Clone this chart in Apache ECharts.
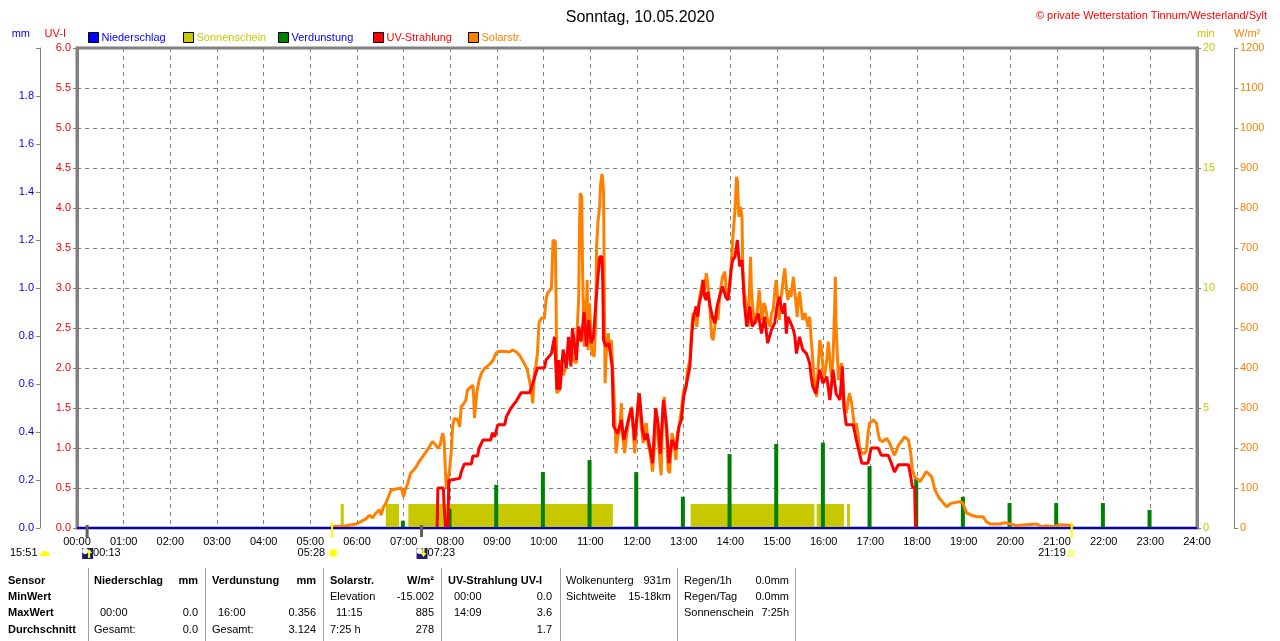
<!DOCTYPE html>
<html>
<head>
<meta charset="utf-8">
<title>Sonntag, 10.05.2020</title>
<script src="https://cdn.jsdelivr.net/npm/echarts@6.0.0/dist/echarts.min.js"></script>
<style>
    html, body { margin: 0; padding: 0; background: #ffffff; }
    #wetter-graph { width: 1280px; height: 641px; }
</style>
</head>
<body>
<div id="wetter-graph"></div>
<script>
/* Solarstrahlung W/m2 (Minuten ab 00:00). */
var solarMinutes = [326, 344, 359, 365, 371, 376, 380, 384, 389, 391, 394, 397, 404, 417, 420, 422, 425, 429, 435, 440,
    449, 453, 457, 461, 464, 467, 470, 472, 474, 475, 477, 479, 481, 483, 485, 489, 492, 494, 497, 500,
    502, 506, 509, 510, 511, 513, 514, 517, 520, 524, 528, 532, 535, 539, 543, 552, 556, 560, 565, 569,
    575, 579, 582, 584, 586, 588, 590, 592, 594, 597, 601, 603, 605, 610, 611, 612, 615, 616, 617, 619,
    620, 622, 625, 629, 632, 635, 638, 642, 643, 645, 646, 647, 649, 650, 652, 653, 654, 656, 657, 659,
    661, 662, 665, 667, 668, 670, 672, 673, 675, 676, 677, 678, 679, 680, 681, 683, 685, 687, 689, 691,
    693, 695, 698, 700, 701, 704, 706, 708, 710, 713, 715, 717, 719, 722, 723, 725, 728, 730, 732, 734,
    737, 740, 743, 744, 746, 748, 751, 753, 755, 758, 760, 762, 765, 767, 770, 772, 774, 777, 780, 783,
    785, 788, 790, 792, 795, 797, 799, 800, 803, 805, 807, 809, 811, 813, 816, 818, 820, 822, 824, 826,
    828, 830, 833, 835, 837, 839, 841, 843, 846, 848, 849, 851, 853, 855, 856, 858, 861, 863, 866, 867,
    869, 871, 873, 876, 877, 879, 881, 883, 885, 888, 891, 893, 895, 897, 899, 901, 903, 904, 906, 908,
    910, 912, 914, 916, 918, 921, 924, 926, 927, 929, 931, 933, 936, 938, 940, 942, 944, 946, 948, 951,
    953, 955, 957, 959, 961, 964, 966, 968, 970, 972, 974, 975, 976, 979, 981, 983, 985, 987, 989, 993,
    996, 998, 1000, 1002, 1004, 1006, 1009, 1013, 1015, 1017, 1019, 1024, 1028, 1030, 1032, 1036, 1041, 1045, 1048, 1051,
    1054, 1056, 1060, 1064, 1069, 1072, 1074, 1077, 1084, 1088, 1092, 1099, 1103, 1109, 1118, 1124, 1135, 1139, 1144, 1150,
    1157, 1165, 1169, 1174, 1187, 1193, 1202, 1208, 1234, 1240, 1247, 1255, 1264, 1281];
var solarValues = [3, 5, 10, 16, 22, 32, 25, 37, 45, 32, 52, 62, 95, 100, 78, 95, 110, 137, 150, 166,
    191, 203, 216, 208, 199, 208, 237, 220, 128, 100, 103, 145, 187, 253, 274, 272, 253, 303, 310, 320,
    345, 352, 357, 332, 275, 277, 337, 370, 387, 399, 405, 412, 420, 438, 442, 441, 440, 445, 440, 432,
    412, 395, 366, 345, 312, 387, 407, 437, 512, 525, 524, 570, 587, 599, 657, 720, 716, 570, 337, 332,
    345, 420, 382, 403, 445, 470, 420, 412, 495, 570, 745, 837, 828, 645, 453, 570, 495, 620, 445, 562,
    470, 437, 428, 520, 703, 770, 803, 857, 885, 870, 837, 570, 362, 420, 453, 487, 445, 470, 387, 303,
    187, 220, 253, 312, 245, 187, 220, 253, 282, 303, 245, 187, 245, 328, 337, 262, 212, 253, 262, 212,
    187, 141, 220, 299, 270, 203, 132, 287, 328, 237, 145, 137, 237, 220, 170, 237, 253, 295, 345, 353,
    395, 420, 487, 537, 520, 503, 553, 570, 603, 620, 595, 637, 612, 570, 478, 470, 503, 528, 520, 570,
    603, 628, 641, 587, 570, 603, 653, 720, 795, 878, 870, 778, 803, 778, 645, 587, 553, 503, 678, 603,
    545, 520, 512, 570, 595, 553, 520, 562, 553, 520, 503, 537, 545, 587, 620, 570, 520, 562, 587, 620,
    649, 603, 570, 595, 578, 628, 570, 528, 562, 591, 553, 520, 537, 537, 503, 528, 470, 420, 370, 328,
    403, 470, 453, 403, 378, 420, 466, 420, 378, 420, 545, 628, 503, 370, 370, 412, 353, 303, 287, 337,
    312, 278, 253, 262, 237, 203, 187, 187, 195, 237, 262, 270, 262, 237, 220, 216, 224, 212, 195, 182,
    195, 207, 216, 228, 220, 187, 145, 128, 116, 128, 141, 128, 95, 74, 53, 62, 66, 62, 37, 32,
    28, 28, 16, 10, 10, 13, 9, 6, 10, 3, 6, 3, 8, 6];

/* UV-Index. */
var uvMinutes = [463, 464, 471, 472, 474, 477, 478, 481, 492, 494, 498, 507, 509, 515, 517, 522, 532, 534, 537, 541,
    550, 552, 558, 565, 571, 582, 586, 592, 601, 603, 610, 612, 614, 617, 619, 621, 625, 629, 632, 635,
    637, 642, 645, 648, 652, 655, 658, 661, 664, 668, 672, 675, 676, 677, 680, 684, 688, 690, 695, 700,
    703, 708, 713, 717, 722, 723, 727, 730, 733, 737, 740, 744, 747, 750, 754, 758, 761, 765, 770, 774,
    777, 780, 783, 788, 790, 792, 796, 798, 800, 803, 805, 807, 809, 811, 814, 817, 820, 823, 826, 830,
    834, 837, 839, 841, 843, 846, 849, 850, 852, 855, 858, 861, 865, 868, 871, 876, 880, 884, 888, 893,
    897, 900, 903, 906, 908, 910, 912, 914, 916, 921, 923, 925, 929, 933, 938, 942, 944, 946, 950, 953,
    955, 959, 964, 968, 972, 976, 981, 984, 986, 989, 998, 1002, 1009, 1017, 1021, 1030, 1034, 1043, 1047, 1051,
    1056, 1069, 1072, 1074, 1077, 1078, 1080];
var uvValues = [0, 0.5, 0.5, 0.27, 0, 0, 0.6, 0.6, 0.62, 0.7, 0.8, 0.8, 0.9, 0.9, 1.0, 1.1, 1.1, 1.19, 1.14, 1.29,
    1.29, 1.39, 1.5, 1.59, 1.69, 1.69, 1.81, 2.0, 2.0, 2.1, 2.18, 2.29, 2.39, 1.73, 2.1, 1.73, 2.23, 2.0, 2.39, 2.02,
    2.5, 2.1, 2.52, 2.33, 2.7, 2.27, 2.6, 2.31, 2.39, 2.93, 3.39, 3.39, 3.06, 2.35, 2.27, 2.31, 2.02, 1.27, 1.18, 1.35,
    1.1, 1.31, 1.5, 1.1, 1.6, 1.68, 1.23, 1.1, 1.18, 0.98, 0.81, 1.5, 1.31, 0.93, 1.6, 1.27, 0.81, 1.1, 0.98, 1.27,
    1.35, 1.64, 1.77, 2.02, 2.35, 2.6, 2.77, 2.64, 2.81, 2.93, 3.1, 2.89, 2.85, 2.95, 2.77, 2.64, 2.56, 2.77, 2.89, 3.02,
    2.89, 2.85, 3.02, 3.23, 3.35, 3.39, 3.6, 3.48, 3.27, 3.35, 2.81, 2.52, 2.77, 2.52, 2.56, 2.68, 2.43, 2.64, 2.31, 2.48,
    2.56, 2.77, 2.89, 2.73, 2.68, 2.81, 2.43, 2.64, 2.6, 2.48, 2.39, 2.18, 2.39, 2.23, 2.18, 2.06, 1.89, 1.77, 1.68, 1.85,
    1.98, 1.81, 1.89, 1.6, 1.98, 1.68, 1.6, 2.02, 1.52, 1.29, 1.29, 1.1, 0.81, 0.81, 1.0, 1.0, 0.91, 0.91, 0.81, 0.7,
    0.79, 0.79, 0.64, 0.52, 0.5, 0.02, 0];

/* Verdunstung mm je Stunde. */
var evapMinutes = [419, 479, 539, 599, 659, 719, 779, 839, 899, 959, 1019, 1079, 1139, 1199, 1259, 1319, 1379];
var evapValues = [0.03, 0.08, 0.18, 0.233, 0.283, 0.233, 0.13, 0.308, 0.35, 0.356, 0.258, 0.208, 0.13, 0.104, 0.104, 0.104, 0.075];

/* Sonnenschein min (Intervalle). */
var sunStart = [339, 397, 426, 789, 951, 990];
var sunEnd = [343, 414, 689, 948, 986, 994];
var sunValue = [1, 1, 1, 1, 1, 1];

/* Niederschlag mm. */
var rainMinutes = [0, 1440];
var rainValues = [0, 0];

/* Sonne / Mond. */
var sunRiseSet = ['05:28', '21:19'];
var moonRiseSet = ['00:13', '07:23'];
var dayLength = '15:51';

var FONT = 'Liberation Sans';
var GRAY = '#808080';
var C_RAIN = '#0000ff';
var C_SUN = '#c8c800';
var C_EVAP = '#008000';
var C_UV = '#ff0000';
var C_SOLAR = '#ff8000';

function pairs(xs, ys) {
    var out = [];
    for (var i = 0; i < xs.length; i++) {
        out.push([xs[i], ys[i]]);
    }
    return out;
}

function toMinutes(s) {
    var p = s.split(':');
    return parseInt(p[0], 10) * 60 + parseInt(p[1], 10);
}

var chart = echarts.init(document.getElementById('wetter-graph'));

/* Legend: one slot per series. */
var legendItems = [
    {name: 'Niederschlag', color: C_RAIN, text: C_RAIN},
    {name: 'Sonnenschein', color: C_SUN, text: C_SUN},
    {name: 'Verdunstung', color: C_EVAP, text: C_RAIN},
    {name: 'UV-Strahlung', color: C_UV, text: C_UV},
    {name: 'Solarstr.', color: C_SOLAR, text: C_SOLAR}
];
var legends = legendItems.map(function (it, i) {
    return {
        left: 88 + 95 * i,
        top: 32,
        itemWidth: 10,
        itemHeight: 10,
        icon: 'rect',
        selectedMode: false,
        padding: 0,
        textStyle: {fontFamily: FONT, fontSize: 11, color: it.text, padding: [0, 0, 0, -2]},
        data: [{name: it.name, itemStyle: {color: it.color, borderColor: '#000000', borderWidth: 1}}]
    };
});

var option = {
    animation: false,
    backgroundColor: '#ffffff',
    textStyle: {fontFamily: FONT},
    title: [
        {
            text: 'Sonntag, 10.05.2020',
            left: 'center',
            top: 5,
            textStyle: {fontFamily: FONT, fontSize: 16, fontWeight: 'normal', color: '#000000'}
        },
        {
            text: '© private Wetterstation Tinnum/Westerland/Sylt',
            right: 8,
            top: 5,
            textStyle: {fontFamily: FONT, fontSize: 11, fontWeight: 'normal', color: '#ff0000'}
        }
    ],
    legend: legends,
    grid: {
        left: 77,
        right: 83,
        top: 48,
        bottom: 113,
        show: true,
        borderColor: GRAY,
        borderWidth: 3,
        backgroundColor: 'transparent'
    },
    xAxis: {
        type: 'value',
        min: 0,
        max: 1440,
        interval: 60,
        axisLine: {show: false},
        axisTick: {show: false},
        axisLabel: {
            color: '#000000',
            fontSize: 11,
            margin: 8,
            showMaxLabel: true,
            formatter: function (v) {
                var h = Math.round(v / 60);
                return (h < 10 ? '0' : '') + h + ':00';
            }
        },
        splitLine: {show: true, lineStyle: {color: GRAY, type: [4, 4], width: 1}}
    },
    yAxis: [
        {
            type: 'value', min: 0, max: 6, interval: 0.5, position: 'left',
            name: 'UV-I', nameLocation: 'end', nameGap: 9,
            nameTextStyle: {color: C_UV, fontSize: 11, align: 'right', padding: [0, 11, 0, 0]},
            axisLine: {show: true, lineStyle: {color: GRAY, width: 3}},
            axisTick: {show: true, length: 4, lineStyle: {color: GRAY}},
            axisLabel: {color: C_UV, fontSize: 11, margin: 6, formatter: function (v) { return v.toFixed(1); }},
            splitLine: {show: true, lineStyle: {color: GRAY, type: [4, 4], width: 1}}
        },
        {
            type: 'value', min: 0, max: 2, interval: 0.2, position: 'left', offset: 37,
            name: 'mm', nameLocation: 'end', nameGap: 9,
            nameTextStyle: {color: C_RAIN, fontSize: 11, align: 'right', padding: [0, 10, 0, 0]},
            axisLine: {show: true, lineStyle: {color: GRAY, width: 1}},
            axisTick: {show: true, length: 4, lineStyle: {color: GRAY}},
            axisLabel: {color: C_RAIN, fontSize: 11, margin: 6, formatter: function (v) { return v > 1.95 ? '' : v.toFixed(1); }},
            splitLine: {show: false}
        },
        {
            type: 'value', min: 0, max: 20, interval: 5, position: 'right',
            name: 'min', nameLocation: 'end', nameGap: 9,
            nameTextStyle: {color: C_SUN, fontSize: 11, align: 'left', padding: [0, 0, 0, 0]},
            axisLine: {show: true, lineStyle: {color: GRAY, width: 3}},
            axisTick: {show: true, length: 4, lineStyle: {color: GRAY}},
            axisLabel: {color: C_SUN, fontSize: 11, margin: 6, formatter: function (v) { return String(v); }},
            splitLine: {show: false}
        },
        {
            type: 'value', min: 0, max: 1200, interval: 100, position: 'right', offset: 37,
            name: 'W/m²', nameLocation: 'end', nameGap: 9,
            nameTextStyle: {color: C_SOLAR, fontSize: 11, align: 'left', padding: [0, 0, 0, 0]},
            axisLine: {show: true, lineStyle: {color: GRAY, width: 1}},
            axisTick: {show: true, length: 4, lineStyle: {color: GRAY}},
            axisLabel: {color: C_SOLAR, fontSize: 11, margin: 6, formatter: function (v) { return String(v); }},
            splitLine: {show: false}
        }
    ],
    series: [
        {
            name: 'Sonnenschein',
            type: 'custom',
            xAxisIndex: 0,
            yAxisIndex: 2,
            itemStyle: {color: C_SUN},
            encode: {x: [0, 1], y: 2},
            renderItem: function (params, api) {
                var p0 = api.coord([api.value(0), api.value(2)]);
                var p1 = api.coord([api.value(1), 0]);
                return {
                    type: 'rect',
                    shape: {x: p0[0], y: p0[1], width: p1[0] - p0[0], height: p1[1] - p0[1]},
                    style: {fill: C_SUN}
                };
            },
            data: sunStart.map(function (s, i) { return [s, sunEnd[i], sunValue[i]]; })
        },
        {
            name: 'Solarstr.',
            type: 'line',
            yAxisIndex: 3,
            symbol: 'none',
            itemStyle: {color: C_SOLAR},
            lineStyle: {color: C_SOLAR, width: 3},
            data: pairs(solarMinutes, solarValues)
        },
        {
            name: 'UV-Strahlung',
            type: 'line',
            yAxisIndex: 0,
            symbol: 'none',
            itemStyle: {color: C_UV},
            lineStyle: {color: C_UV, width: 3},
            data: pairs(uvMinutes, uvValues)
        },
        {
            name: 'Verdunstung',
            type: 'bar',
            yAxisIndex: 1,
            barWidth: 4,
            itemStyle: {color: C_EVAP},
            data: pairs(evapMinutes, evapValues)
        },
        {
            name: 'Niederschlag',
            type: 'line',
            yAxisIndex: 1,
            symbol: 'none',
            z: 5,
            itemStyle: {color: C_RAIN},
            lineStyle: {color: '#0000cc', width: 2},
            data: pairs(rainMinutes, rainValues)
        }
    ]
};
chart.setOption(option);

/* Sonne/Mond-Markierungen unter der Zeitachse, ueber die Achse positioniert. */
var baseY = chart.convertToPixel({yAxisIndex: 0}, 0);
var rowY = baseY + 25;
var elements = [];
var txt = {fontFamily: FONT, fontSize: 11, fill: '#000000', verticalAlign: 'middle'};

function text(x, y, s, align, extra) {
    var st = Object.assign({}, txt, {x: x, y: y, text: s, align: align || 'left'}, extra || {});
    return {type: 'text', style: st, z: 100};
}

sunRiseSet.forEach(function (t, i) {
    var x = chart.convertToPixel({xAxisIndex: 0}, toMinutes(t));
    elements.push({type: 'line', shape: {x1: x, y1: baseY - 6, x2: x, y2: baseY + 10}, style: {stroke: '#ffff00', lineWidth: 2}, z: 100});
    if (i === 0) {
        elements.push(text(x - 7, rowY, t, 'right'));
        elements.push({type: 'circle', shape: {cx: x + 1, cy: rowY, r: 5.5}, style: {fill: '#ffffc0'}, z: 100});
        elements.push({type: 'circle', shape: {cx: x + 1, cy: rowY, r: 3.5}, style: {fill: '#ffff00'}, z: 101});
    } else {
        elements.push(text(x - 6, rowY, t, 'right'));
        elements.push({type: 'rect', shape: {x: x - 3, y: rowY - 2, width: 5, height: 5}, style: {fill: '#ffffc0', stroke: '#ffff00', lineWidth: 1}, z: 100});
    }
});

moonRiseSet.forEach(function (t, i) {
    var x = chart.convertToPixel({xAxisIndex: 0}, toMinutes(t));
    elements.push({type: 'line', shape: {x1: x, y1: baseY - 3, x2: x, y2: baseY + 9}, style: {stroke: '#606060', lineWidth: 3}, z: 100});
    elements.push({type: 'rect', shape: {x: x - 5, y: rowY - 5, width: 11, height: 11}, style: {fill: '#1c1c80'}, z: 100});
    elements.push({type: 'circle', shape: {cx: x - 2, cy: rowY - 2, r: 3}, style: {fill: '#ffffff'}, z: 101});
    var arrow = i === 0
        ? [[x + 1, rowY + 5], [x + 1, rowY], [x - 1, rowY], [x + 2, rowY - 4], [x + 5, rowY], [x + 3, rowY], [x + 3, rowY + 5]]
        : [[x + 1, rowY - 5], [x + 1, rowY], [x - 1, rowY], [x + 2, rowY + 4], [x + 5, rowY], [x + 3, rowY], [x + 3, rowY - 5]];
    elements.push({type: 'polygon', shape: {points: arrow}, style: {fill: '#ffff00'}, z: 102});
    elements.push(text(x + 6, rowY, t, 'left'));
});

/* Tageslaenge. */
elements.push(text(10, rowY, dayLength, 'left'));
elements.push({type: 'sector', shape: {cx: 45, cy: rowY + 3, r: 5, r0: 0, startAngle: Math.PI, endAngle: Math.PI * 2}, style: {fill: '#ffff00'}, z: 100});

/* Statistik-Tabelle. */
var tableRows = [581, 597, 613, 630];
var tableCells = [
    [8, 0, 'Sensor', 'left', true], [8, 1, 'MinWert', 'left', true], [8, 2, 'MaxWert', 'left', true], [8, 3, 'Durchschnitt', 'left', true],
    [94, 0, 'Niederschlag', 'left', true], [198, 0, 'mm', 'right', true],
    [100, 2, '00:00', 'left'], [198, 2, '0.0', 'right'], [94, 3, 'Gesamt:', 'left'], [198, 3, '0.0', 'right'],
    [212, 0, 'Verdunstung', 'left', true], [316, 0, 'mm', 'right', true],
    [218, 2, '16:00', 'left'], [316, 2, '0.356', 'right'], [212, 3, 'Gesamt:', 'left'], [316, 3, '3.124', 'right'],
    [330, 0, 'Solarstr.', 'left', true], [434, 0, 'W/m²', 'right', true],
    [330, 1, 'Elevation', 'left'], [434, 1, '-15.002', 'right'], [336, 2, '11:15', 'left'], [434, 2, '885', 'right'],
    [330, 3, '7:25 h', 'left'], [434, 3, '278', 'right'],
    [448, 0, 'UV-Strahlung UV-I', 'left', true],
    [454, 1, '00:00', 'left'], [552, 1, '0.0', 'right'], [454, 2, '14:09', 'left'], [552, 2, '3.6', 'right'], [552, 3, '1.7', 'right'],
    [566, 0, 'Wolkenunterg', 'left'], [671, 0, '931m', 'right'], [566, 1, 'Sichtweite', 'left'], [671, 1, '15-18km', 'right'],
    [684, 0, 'Regen/1h', 'left'], [789, 0, '0.0mm', 'right'], [684, 1, 'Regen/Tag', 'left'], [789, 1, '0.0mm', 'right'],
    [684, 2, 'Sonnenschein', 'left'], [789, 2, '7:25h', 'right']
];
tableCells.forEach(function (c) {
    elements.push(text(c[0], tableRows[c[1]], c[2], c[3], c[4] ? {fontWeight: 'bold'} : null));
});
[88, 205, 323, 441, 560, 677, 795].forEach(function (x) {
    elements.push({type: 'line', shape: {x1: x + 0.5, y1: 568, x2: x + 0.5, y2: 641}, style: {stroke: '#a0a0a0', lineWidth: 1}, z: 100});
});

chart.setOption({graphic: {elements: elements}});

/* Responsiveness. */
window.addEventListener('resize', function () {
    chart.resize();
});
</script>
</body>
</html>
